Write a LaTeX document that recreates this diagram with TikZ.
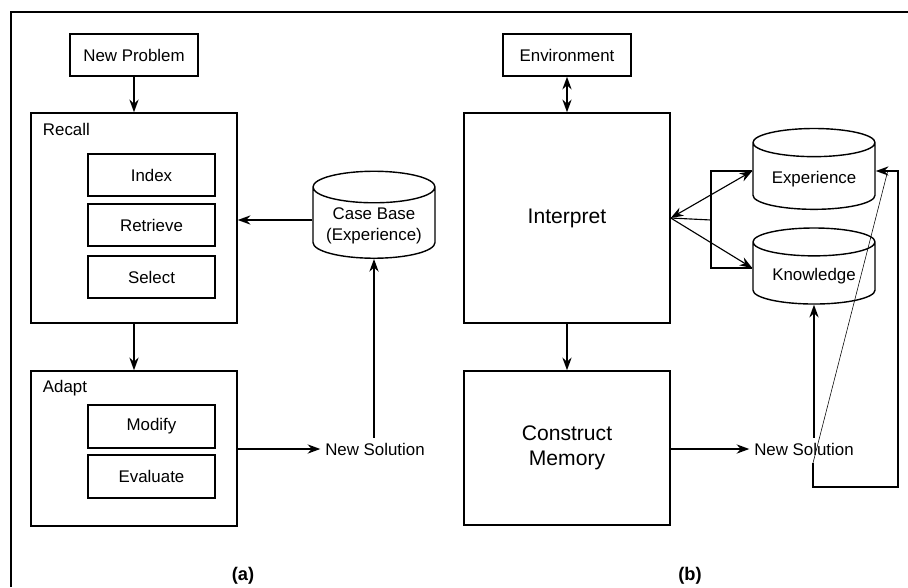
\documentclass[tikz,border=0pt]{standalone}
\usepackage{fontspec}
\setmainfont{Liberation Sans}
\usetikzlibrary{shapes.geometric,arrows.meta,calc}

\tikzset{
	stepbox/.style={draw, line width=1pt, minimum width=3.175cm, minimum height=1.05cm},
	bigbox/.style={draw, line width=1pt, minimum width=5.15cm},
	store/.style={draw, line width=1pt, cylinder, shape border rotate=90, aspect=0.3, minimum width=3.05cm, minimum height=2cm, align=center},
	tip/.style={Stealth[length=9pt,width=6.5pt]},
	flow/.style={line width=1.6pt, -{Stealth[length=9pt,width=6.5pt]}},
}

\begin{document}
\begin{tikzpicture}[x=0.025cm, y=-0.025cm, font=\fontsize{12}{14.5}\selectfont]
	\useasboundingbox (0,0) rectangle (908,587);
	\draw [line width=2pt] (11,587) -- (11,12) -- (908,12);

	% (a) case based reasoning
	\node [stepbox, minimum width=3.2cm] (newprob) at (134,55) {New Problem};
	\node [bigbox, minimum height=5.25cm] (recall) at (134,218) {};
	\node [anchor=west] at (38,129) {Recall};
	\node [stepbox] (index) at (151.5,175) {Index};
	\node [stepbox] (retrieve) at (151.5,225) {Retrieve};
	\node [stepbox] (select) at (151.5,277) {Select};
	\node [bigbox, minimum height=3.875cm] (adapt) at (134,448.5) {};
	\node [anchor=west] at (38,388) {Adapt};
	\node [stepbox, minimum height=1.075cm] (modify) at (151.5,426.5) {Modify};
	\node [stepbox, minimum height=1.075cm] (evaluate) at (151.5,476.5) {Evaluate};
	\node [store] (casebase) at (374,226) {Case Base\\(Experience)};
	\node (solA) at (375,449) {New Solution};
	\node [font=\fontsize{13}{15}\bfseries] (capA) at (243,576) {(a)};

	\draw [flow] (newprob) -- (recall);
	\draw [flow] (recall) -- (adapt);
	\draw [flow] ($(casebase.west)+(0,-6)$) -- ($(casebase.west -| recall.east)+(0,-6)$);
	\draw [flow] (adapt.east |- solA) -- (solA.west);
	\draw [flow] (solA.north -| casebase.south) -- (casebase.south);

	% (b) memory based reasoning
	\node [stepbox, minimum width=3.2cm] (env) at (567,55) {Environment};
	\node [bigbox, minimum height=5.25cm, font=\fontsize{15}{18}\selectfont] (interp) at (567,218) {Interpret};
	\node [bigbox, minimum height=3.85cm, align=center, font=\fontsize{15}{18}\selectfont] (construct) at (567,448) {Construct\\Memory};
	\node [store, minimum height=2.02cm] (exper) at (814,179) {Experience};
	\node [store, minimum height=1.9cm] (knowl) at (814,276) {Knowledge};
	\node (solB) at (804,449) {New Solution};
	\node [font=\fontsize{13}{15}\bfseries] (capB) at (690,576) {(b)};

	\coordinate (experin) at ($(exper.west)+(0,-8)$);
	\coordinate (knowlin) at ($(knowl.west)+(0,-8)$);
	\coordinate (experback) at ($(exper.east)+(0,-8)$);
	\coordinate (fork) at (711,220);
	\coordinate (loopstart) at (813,463);

	\draw [line width=1.6pt, {Stealth[length=9pt,width=6.5pt]}-{Stealth[length=9pt,width=6.5pt]}] (env) -- (interp);
	\draw [flow] (interp) -- (construct);
	\draw [flow] (construct.east |- solB) -- (solB.west);
	\draw [thick, {Stealth[length=9pt,width=6.5pt]}-{Stealth[length=9pt,width=6.5pt]}] (interp.east) -- (experin);
	\draw [thick, -{Stealth[length=9pt,width=6.5pt]}] (interp.east) -- (knowlin);
	\draw [line width=1.6pt] (experin) -| (fork) |- (knowlin);
	\draw [thick] (interp.east) -- (fork);
	\draw [flow] (solB.north -| knowl.south) -- (knowl.south);
	\draw [flow] (loopstart) |- (898,487) |- (experback);
	\draw [thin] (loopstart) -- ($(experback)+(12,0)$);
\end{tikzpicture}
\end{document}
